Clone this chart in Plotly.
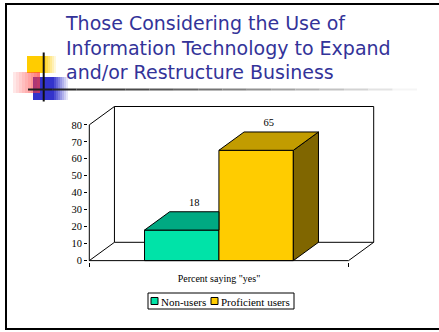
import plotly.graph_objects as go

# ---------------- data ----------------
CATEGORY = 'Percent saying "yes"'
SERIES = ["Non-users", "Proficient users"]
VALUES = [18, 65]
Y_TICKS = [0, 10, 20, 30, 40, 50, 60, 70, 80]
TITLE_LINES = ["Those Considering the Use of",
               "Information Technology to Expand",
               "and/or Restructure Business"]

# ---------------- style / layout ----------------
FRONT = ["#00E3A8", "#FFCC00"]
TOP = ["#00A982", "#C29C00"]
SIDE = ["#007F60", "#806600"]
SERIF = "Liberation Serif"

W, H = 439, 332
L, R, T, B = 88, 64, 106, 70
PW, PH = W - L - R, H - T - B
Y_MAX = 80
DX, DY = 0.097, 10.8          # depth of the 3-D box in axis units
BAR_W = 0.287
XR = [-0.505, 0.5 + DX + 0.005]
YR = [-0.8, Y_MAX + DY + 0.3]


def px(x):
    return (x - L) / PW


def py(y):
    return (H - B - y) / PH


fig = go.Figure()

n = len(VALUES)
centers = [(i - (n - 1) / 2) * BAR_W for i in range(n)]
lefts = [c - BAR_W / 2 for c in centers]
rights = [c + BAR_W / 2 for c in centers]

# ---- walls / floor lines (behind the bars) ----
x0, x1 = -0.5, 0.5
wx, wy = [], []


def seg(a, b):
    wx.extend([a[0], b[0], None])
    wy.extend([a[1], b[1], None])


seg((x0, 0), (x0, Y_MAX))
seg((x0, Y_MAX), (x0 + DX, Y_MAX + DY))
seg((x0 + DX, Y_MAX + DY), (x1 + DX, Y_MAX + DY))
seg((x1 + DX, Y_MAX + DY), (x1 + DX, DY))
seg((x0 + DX, DY), (x0 + DX, Y_MAX + DY))
seg((x0, 0), (x0 + DX, DY))
seg((x1, 0), (x1 + DX, DY))
seg((x0, 0), (x1, 0))
seg((x0 + DX, DY), (min(lefts), DY))
seg((max(rights), DY), (x1 + DX, DY))

fig.add_trace(go.Scatter(x=wx, y=wy, mode="lines",
                         line=dict(color="black", width=1),
                         hoverinfo="skip", showlegend=False))

# ---- bars: front faces as Bar traces ----
for i, (name, v) in enumerate(zip(SERIES, VALUES)):
    fig.add_trace(go.Bar(x=[centers[i]], y=[v], width=[BAR_W], name=name,
                         marker=dict(color=FRONT[i], line=dict(color="black", width=1)),
                         showlegend=False))

# ---- top and side faces ----
for i, v in enumerate(VALUES):
    xl, xr = lefts[i], rights[i]
    hidden_by_next = i < n - 1 and VALUES[i + 1] >= v + DY
    if hidden_by_next:
        tx = [xl, xr, xr, xl + DX, xl]
        ty = [v, v, v + DY, v + DY, v]
    else:
        tx = [xl, xr, xr + DX, xl + DX, xl]
        ty = [v, v, v + DY, v + DY, v]
        fig.add_trace(go.Scatter(x=[xr, xr + DX, xr + DX, xr, xr],
                                 y=[0, DY, v + DY, v, 0],
                                 fill="toself", fillcolor=SIDE[i], mode="lines",
                                 line=dict(color="black", width=1),
                                 hoverinfo="skip", showlegend=False))
    fig.add_trace(go.Scatter(x=tx, y=ty, fill="toself", fillcolor=TOP[i], mode="lines",
                             line=dict(color="black", width=1),
                             hoverinfo="skip", showlegend=False))

# ---- data labels ----
fig.add_trace(go.Scatter(x=[c + DX / 2 for c in centers],
                         y=[v + DY + 4.8 for v in VALUES],
                         text=[str(v) for v in VALUES], mode="text",
                         textfont=dict(family=SERIF, size=10.5, color="black"),
                         cliponaxis=False, hoverinfo="skip", showlegend=False))

shapes = []
annotations = []

# ---- custom compact legend ----
LEG = dict(x0=148, x1=294, y0=293, y1=309)
shapes.append(dict(type="rect", xref="paper", yref="paper",
                   x0=px(LEG["x0"]), x1=px(LEG["x1"]), y0=py(LEG["y1"]), y1=py(LEG["y0"]),
                   line=dict(color="black", width=1), fillcolor="white"))
item_x = [151, 211]
for i, name in enumerate(SERIES):
    sx = item_x[i]
    shapes.append(dict(type="rect", xref="paper", yref="paper",
                       x0=px(sx), x1=px(sx + 7), y0=py(304.5), y1=py(297.5),
                       line=dict(color="black", width=1), fillcolor=FRONT[i]))
    annotations.append(dict(text=name, xref="paper", yref="paper", x=px(sx + 8), y=py(301.5),
                            xanchor="left", yanchor="middle", showarrow=False,
                            font=dict(family=SERIF, size=11, color="black")))

# ---- slide frame ----
for (ax, ay, bx, by) in [(5, 4, 439, 4), (6, 3, 6, 330), (5, 329, 439, 329)]:
    shapes.append(dict(type="line", xref="paper", yref="paper",
                       x0=px(ax), y0=py(ay), x1=px(bx), y1=py(by),
                       line=dict(color="black", width=2)))

# ---- slide logo decoration ----
def rect(xa, xb, ya, yb, color, op=1.0):
    shapes.append(dict(type="rect", xref="paper", yref="paper",
                       x0=px(xa), x1=px(xb), y0=py(yb), y1=py(ya),
                       line=dict(width=0), fillcolor=color, opacity=op))


# yellow square with fading right edge
rect(27, 44, 56, 73, "#FFCC00")
for k in range(6):
    rect(44 + 2 * k, 46 + 2 * k, 56, 73, "#FFCC00", 1 - (k + 1) / 7)
# blue square with fading right edge
rect(33, 54, 77, 100, "#3333CC")
for k in range(7):
    rect(54 + 2 * k, 56 + 2 * k, 77, 100, "#3333CC", 1 - (k + 1) / 8)
# pink/red square, pale on the left, red on the right
for k in range(9):
    rect(13 + 3 * k, 16 + 3 * k, 72, 93, "#FF3B3B", 0.12 + 0.07 * k)
# black cross
shapes.append(dict(type="line", xref="paper", yref="paper",
                   x0=px(43.7), x1=px(43.7), y0=py(52.5), y1=py(101.5),
                   line=dict(color="#111111", width=2)))
# underline with gradient
N_SEG = 16
for k in range(N_SEG):
    xa = 28 + k * (417 - 28) / N_SEG
    xb = 28 + (k + 1) * (417 - 28) / N_SEG
    g = int(30 + 215 * (k / (N_SEG - 1)) ** 1.2)
    shapes.append(dict(type="line", xref="paper", yref="paper",
                       x0=px(xa), x1=px(xb), y0=py(89.5), y1=py(89.5),
                       line=dict(color=f"rgb({g},{g},{g})", width=2)))

fig.update_layout(
    width=W, height=H,
    margin=dict(l=L, r=R, t=T, b=B, pad=0),
    paper_bgcolor="white", plot_bgcolor="white",
    barmode="overlay",
    showlegend=False,
    title=dict(text="<br>".join(TITLE_LINES), xref="container", yref="container",
               x=66 / W, xanchor="left", y=1 - 30 / H, yanchor="top",
               font=dict(family="DejaVu Sans", size=19, color="#333399")),
    shapes=shapes,
    annotations=annotations,
    xaxis=dict(range=XR, showgrid=False, zeroline=False, showline=False,
               tickvals=[0], ticktext=[CATEGORY], ticks="", ticklabelstandoff=9,
               tickfont=dict(family=SERIF, size=10, color="black"),
               minor=dict(tickvals=[-0.5, 0.5], ticks="outside", ticklen=4,
                          tickcolor="black", tickwidth=1, showgrid=False),
               fixedrange=True),
    yaxis=dict(range=YR, showgrid=False, zeroline=False, showline=False,
               tickvals=Y_TICKS, ticks="outside", ticklen=3, tickcolor="black",
               tickwidth=1,
               tickfont=dict(family=SERIF, size=10.5, color="black"),
               fixedrange=True),
)

fig.write_html("out.html", config={"displayModeBar": False},
               post_script="document.body.style.margin='0';")
